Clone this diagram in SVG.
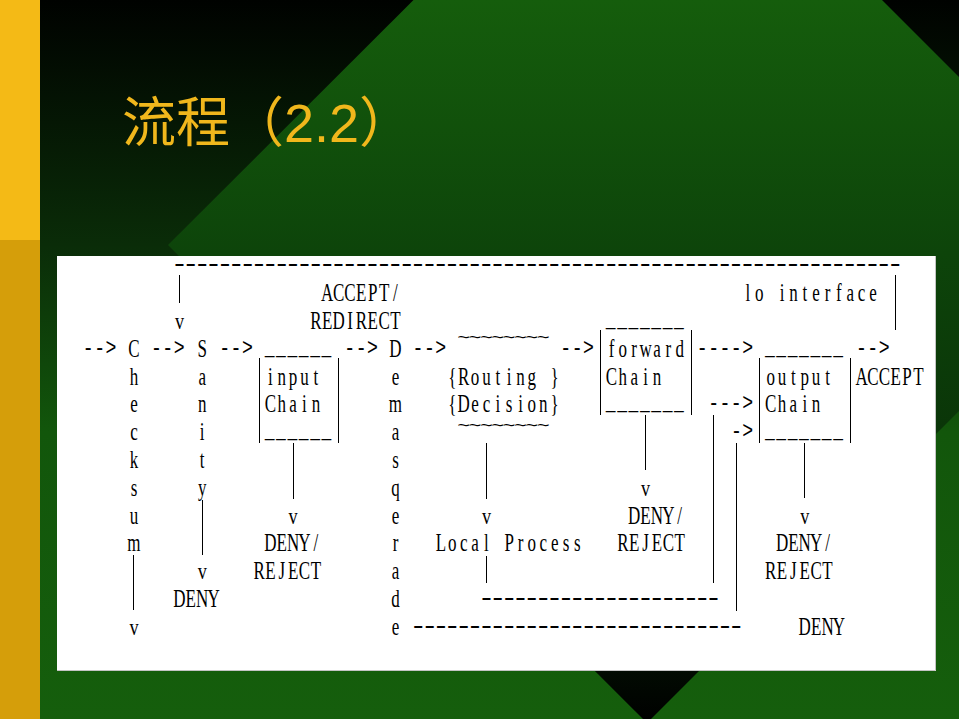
<svg xmlns="http://www.w3.org/2000/svg" width="959" height="719" viewBox="0 0 959 719">
  <defs>
    <linearGradient id="bgFade" gradientUnits="userSpaceOnUse" x1="0" y1="0" x2="0" y2="719">
      <stop offset="0" stop-color="#000200"/>
      <stop offset="0.34" stop-color="#0a2c08"/>
      <stop offset="0.6" stop-color="#12560b"/>
      <stop offset="1" stop-color="#155e0c"/>
    </linearGradient>
    <linearGradient id="diamondFade" gradientUnits="userSpaceOnUse" x1="0" y1="0" x2="0" y2="723">
      <stop offset="0" stop-color="#155d0c"/>
      <stop offset="0.35" stop-color="#0d440a"/>
      <stop offset="0.6" stop-color="#0a3508"/>
      <stop offset="0.88" stop-color="#031203"/>
      <stop offset="1" stop-color="#000000"/>
    </linearGradient>
  </defs>
  <style>
    .title { font-family: "Noto Sans CJK SC", sans-serif; font-size: 54px; fill: #F0B71C; }
    line { stroke: #000; stroke-width: 1; vector-effect: non-scaling-stroke; shape-rendering: crispEdges; }
    /* node labels: serif glyphs centred one per grid cell (16.72 units = 11.37px) */
    .nodes text { font-family: "Liberation Serif", serif; font-size: 25px; fill: #000; text-anchor: middle; }
    .nodes text.rule { font-family: "Liberation Mono", monospace; font-size: 24px; letter-spacing: 2.32px; text-anchor: start; }
    .nodes text.wave { font-family: "Liberation Mono", monospace; font-size: 16px; }
    /* arrows and dashed runs: monospace on a 15-unit grid (11.37px) */
    .links text { font-family: "Liberation Mono", monospace; font-size: 24px; letter-spacing: 0.6px; fill: #000; }
    .links text.run { letter-spacing: -5.025px; }
    .links text.head { font-family: "Liberation Serif", serif; text-anchor: middle; letter-spacing: 0; }
  </style>

  <!-- slide backdrop -->
  <g id="backdrop">
    <rect x="0" y="0" width="959" height="719" fill="url(#bgFade)"/>
    <polygon points="648,-234 1126,244 647,723 168,245" fill="url(#diamondFade)"/>
    <rect x="0" y="0" width="40" height="240" fill="#F4BA16"/>
    <rect x="0" y="240" width="40" height="479" fill="#D59E0A"/>
  </g>

  <text id="title" class="title" x="122" y="142">流程（<tspan font-family="Liberation Sans">2.2</tspan>）</text>

  <!-- white panel holding the packet-flow chart -->
  <rect x="57" y="256" width="879" height="415" fill="#ffffff"/>
  <polyline points="935.5,256 935.5,670.5 57,670.5" fill="none" stroke="#c4c4c4" stroke-width="1"/>

  <!-- nodes -->
  <g class="nodes" transform="matrix(0.68 0 0 1 82.8 0)">
    <g id="checksum">
      <text x="75.2" y="356.9">C</text>
      <text x="75.2" y="384.7">h</text>
      <text x="75.2" y="412.5">e</text>
      <text x="75.2" y="440.3">c</text>
      <text x="75.2" y="468.1">k</text>
      <text x="75.2" y="495.9">s</text>
      <text x="75.2" y="523.7">u</text>
      <text x="75.2" y="551.5">m</text>
    </g>

    <g id="sanity">
      <text x="175.6" y="356.9">S</text>
      <text x="175.6" y="384.7">a</text>
      <text x="175.6" y="412.5">n</text>
      <text x="175.6" y="440.3">i</text>
      <text x="175.6" y="468.1">t</text>
      <text x="175.6" y="495.9">y</text>
    </g>
    <g id="sanity-deny">
      <text x="142.1 158.8 175.6 192.3" y="607.1">DENY</text>
    </g>

    <g id="accept-redirect">
      <text x="359.5 376.2 392.9 409.6 426.4 443.1 459.8" y="301.3">ACCEPT/</text>
      <text x="342.8 359.5 376.2 392.9 409.6 426.4 443.1 459.8" y="329.1">REDIRECT</text>
    </g>

    <g id="input-chain">
      <text class="rule" x="267.5" y="354.9">______</text>
      <text x="275.9 292.6 309.3 326 342.8" y="384.7">input</text>
      <text x="275.9 292.6 309.3 326 342.8" y="412.5">Chain</text>
      <text class="rule" x="267.5" y="438.3">______</text>
      <line x1="259.2" y1="358" x2="259.2" y2="443"/>
      <line x1="376.2" y1="358" x2="376.2" y2="443"/>
    </g>
    <g id="input-verdict">
      <text x="275.9 292.6 309.3 326 342.8" y="551.5">DENY/</text>
      <text x="259.2 275.9 292.6 309.3 326 342.8" y="579.3">REJECT</text>
    </g>

    <g id="demasquerade">
      <text x="459.8" y="356.9">D</text>
      <text x="459.8" y="384.7">e</text>
      <text x="459.8" y="412.5">m</text>
      <text x="459.8" y="440.3">a</text>
      <text x="459.8" y="468.1">s</text>
      <text x="459.8" y="495.9">q</text>
      <text x="459.8" y="523.7">e</text>
      <text x="459.8" y="551.5">r</text>
      <text x="459.8" y="579.3">a</text>
      <text x="459.8" y="607.1">d</text>
      <text x="459.8" y="634.9">e</text>
    </g>

    <g id="routing">
      <text class="wave" transform="scale(2 1)" x="280.06 288.42 296.78 305.14 313.5 321.86 330.22 338.58" y="343.4">~~~~~~~~</text>
      <text x="543.4 560.1 576.8 593.6 610.3 627 643.7 660.4 677.2 693.9" y="384.7">{Routing }</text>
      <text x="543.4 560.1 576.8 593.6 610.3 627 643.7 660.4 677.2 693.9" y="412.5">{Decision}</text>
      <text class="wave" transform="scale(2 1)" x="280.06 288.42 296.78 305.14 313.5 321.86 330.22 338.58" y="431.3">~~~~~~~~</text>
    </g>

    <g id="local-process">
      <text x="526.7 543.4 560.1 576.8 593.6 610.3 627 643.7 660.4 677.2 693.9 710.6 727.3" y="551.5">Local Process</text>
    </g>

    <g id="forward-chain">
      <text class="rule" x="769.1" y="327.1">_______</text>
      <text x="777.5 794.2 810.9 827.6 844.4 861.1 877.8" y="356.9">forward</text>
      <text x="777.5 794.2 810.9 827.6 844.4" y="384.7">Chain</text>
      <text class="rule" x="769.1" y="410.5">_______</text>
      <line x1="760.8" y1="330" x2="760.8" y2="415"/>
      <line x1="894.5" y1="330" x2="894.5" y2="415"/>
    </g>
    <g id="forward-verdict">
      <text x="810.9 827.6 844.4 861.1 877.8" y="523.7">DENY/</text>
      <text x="794.2 810.9 827.6 844.4 861.1 877.8" y="551.5">REJECT</text>
    </g>

    <g id="output-chain">
      <text class="rule" x="1003.2" y="354.9">_______</text>
      <text x="1011.6 1028.3 1045 1061.7 1078.4 1095.2" y="384.7">output</text>
      <text x="1011.6 1028.3 1045 1061.7 1078.4" y="412.5">Chain</text>
      <text class="rule" x="1003.2" y="438.3">_______</text>
      <line x1="994.8" y1="358" x2="994.8" y2="443"/>
      <line x1="1128.6" y1="358" x2="1128.6" y2="443"/>
    </g>
    <g id="output-verdict">
      <text x="1028.3 1045 1061.7 1078.4 1095.2" y="551.5">DENY/</text>
      <text x="1011.6 1028.3 1045 1061.7 1078.4 1095.2" y="579.3">REJECT</text>
    </g>

    <g id="lo-interface">
      <text x="978.1 994.8 1011.6 1028.3 1045 1061.7 1078.4 1095.2 1111.9 1128.6 1145.3 1162" y="301.3">lo interface</text>
    </g>
    <g id="accept">
      <text x="1145.3 1162 1178.8 1195.5 1212.2 1228.9" y="384.7">ACCEPT</text>
    </g>
    <g id="deny">
      <text x="1061.7 1078.4 1095.2 1111.9" y="634.9">DENY</text>
    </g>
  </g>

  <!-- arrows, drop lines and loop-back runs -->
  <g id="connectors" class="links" transform="matrix(0.758 0 0 1 82.8 0)">
    <line x1="67.5" y1="555" x2="67.5" y2="610"/>
    <line x1="127.5" y1="275" x2="127.5" y2="303"/>
    <line x1="157.5" y1="500" x2="157.5" y2="555"/>
    <line x1="277.5" y1="443" x2="277.5" y2="499"/>
    <line x1="532.5" y1="443" x2="532.5" y2="499"/>
    <line x1="532.5" y1="556" x2="532.5" y2="583"/>
    <line x1="742.5" y1="415" x2="742.5" y2="470"/>
    <line x1="832.5" y1="415" x2="832.5" y2="583"/>
    <line x1="862.5" y1="443" x2="862.5" y2="611"/>
    <line x1="952.5" y1="443" x2="952.5" y2="498"/>
    <line x1="1072.5" y1="275" x2="1072.5" y2="330"/>

    <text class="run" transform="scale(1.6 1)" x="72.5" y="271.2">----------------------------------------------------------------</text>
    <text x="0" y="354.6">--&gt;</text>
    <text x="90" y="354.6">--&gt;</text>
    <text x="180" y="354.6">--&gt;</text>
    <text x="345" y="354.6">--&gt;</text>
    <text x="435" y="354.6">--&gt;</text>
    <text x="630" y="354.6">--&gt;</text>
    <text x="810" y="354.6">----&gt;</text>
    <text x="1020" y="354.6">--&gt;</text>
    <text x="825" y="410.2">---&gt;</text>
    <text x="855" y="438">-&gt;</text>
    <text class="run" transform="scale(1.6 1)" x="325.6" y="604.8">---------------------</text>
    <text class="run" transform="scale(1.6 1)" x="269.4" y="632.6">-----------------------------</text>

    <text class="head" x="127.5" y="329.1">v</text>
    <text class="head" x="742.5" y="495.9">v</text>
    <text class="head" x="277.5" y="523.7">v</text>
    <text class="head" x="532.5" y="523.7">v</text>
    <text class="head" x="952.5" y="523.7">v</text>
    <text class="head" x="157.5" y="579.3">v</text>
    <text class="head" x="67.5" y="634.9">v</text>
  </g>
</svg>
